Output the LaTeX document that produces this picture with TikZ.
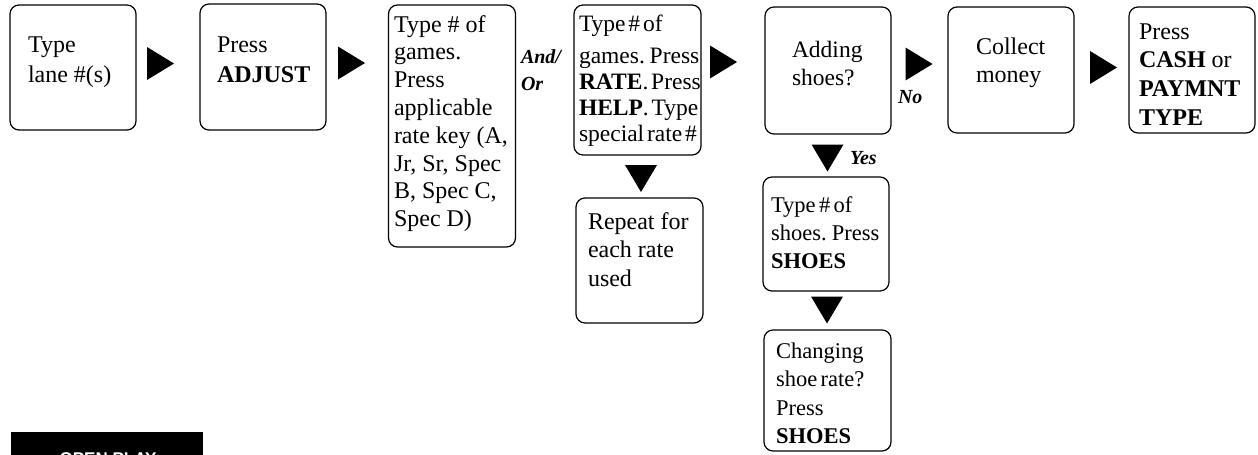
\documentclass[tikz,border=0pt]{standalone}
\usepackage{fontspec}
\setmainfont{Liberation Serif}
\newfontfamily\labelsans{Liberation Sans}
\tikzset{
  stepbox/.style={draw=black, line width=1.2pt, rounded corners=9pt, inner sep=0pt, outer sep=0pt},
  txt/.style={anchor=base west, inner sep=0pt, outer sep=0pt},
  tag/.style={anchor=base west, inner sep=0pt, outer sep=0pt, font=\fontsize{20}{28}\selectfont\bfseries\itshape},
  rarrow/.pic={\fill[black] (-13.5,-16.5) -- (13.5,0) -- (-13.5,16.5) -- cycle;},
  darrow/.pic={\fill[black] (-16,-13.5) -- (16,-13.5) -- (0,13.5) -- cycle;}
}
\newcommand{\boxtext}[3]{\parbox[t]{#1pt}{\fontsize{#2}{#3}\selectfont\raggedright}}
\begin{document}
\begin{tikzpicture}[x=1pt,y=-1pt]
\useasboundingbox (0,0) rectangle (1258,455);

% boxes
\node[stepbox, minimum width=126pt, minimum height=125pt] (b1) at (73,67.5) {};
\node[stepbox, minimum width=126pt, minimum height=126pt] (b2) at (263,67) {};
\node[stepbox, minimum width=127pt, minimum height=242pt] (b3) at (452,126) {};
\node[stepbox, minimum width=127pt, minimum height=150pt] (b4) at (637.5,80) {};
\node[stepbox, minimum width=127pt, minimum height=125pt] (b5) at (639.5,260.5) {};
\node[stepbox, minimum width=126pt, minimum height=127pt] (b6) at (828,70.5) {};
\node[stepbox, minimum width=126pt, minimum height=126pt] (b7) at (1011,70) {};
\node[stepbox, minimum width=126pt, minimum height=126pt] (b8) at (1192,70) {};
\node[stepbox, minimum width=126pt, minimum height=114pt] (b9) at (826,234) {};
\node[stepbox, minimum width=127pt, minimum height=121pt] (b10) at (827.5,390.5) {};

% texts
\node[txt] (t1) at (28,52) {\parbox[t]{110pt}{\fontsize{24}{30}\selectfont Type\\lane \#(s)}};
\node[txt] (t2) at (217,52) {\parbox[t]{110pt}{\fontsize{24}{30}\selectfont Press\\\textbf{ADJUST}}};
\node[txt] (t3) at (394,32) {\parbox[t]{125pt}{\fontsize{24}{27.8}\selectfont Type \# of\\games.\\Press\\applicable\\rate key (A,\\Jr, Sr, Spec\\B, Spec C,\\Spec D)}};
\node[txt] (t4) at (579,31) {\parbox[t]{125pt}{\fontsize{23.5}{26}\selectfont\spaceskip=0.12em plus 0.05em Type \# of\\[6pt]games. Press\\\textbf{RATE}. Press\\\textbf{HELP}. Type\\special rate \#}};
\node[txt] (t5) at (588,229) {\parbox[t]{115pt}{\fontsize{24}{28.5}\selectfont Repeat for\\each rate\\used}};
\node[txt] (t6) at (792,57) {\parbox[t]{100pt}{\fontsize{23.5}{28}\selectfont Adding\\shoes?}};
\node[txt] (t7) at (976,54) {\parbox[t]{100pt}{\fontsize{24}{28}\selectfont Collect\\money}};
\node[txt] (t8) at (1139,39) {\parbox[t]{118pt}{\fontsize{24}{28.7}\selectfont Press\\\textbf{CASH} or\\\textbf{PAYMNT}\\\textbf{TYPE}}};
\node[txt] (t9) at (771,212) {\parbox[t]{118pt}{\fontsize{22.5}{28}\selectfont\spaceskip=0.15em plus 0.05em Type \# of\\shoes. Press\\\textbf{SHOES}}};
\node[txt] (t10) at (776,358) {\parbox[t]{112pt}{\fontsize{22.5}{28.5}\selectfont\spaceskip=0.15em plus 0.05em Changing\\shoe rate?\\Press\\\textbf{SHOES}}};

% branch labels
\node[tag] (andor) at (521,63) {\parbox[t]{40pt}{\fontsize{20}{28}\selectfont\bfseries\itshape And/\\Or}};
\node[tag] (no) at (898,103) {No};
\node[tag] (yes) at (850,164) {Yes};

% arrows (filled triangles)
\pic at (160.5,63.5) {rarrow};
\pic at (351.5,63) {rarrow};
\pic at (723.5,62) {rarrow};
\pic at (919,64) {rarrow};
\pic at (1103.5,67.5) {rarrow};
\pic at (641,178.5) {darrow};
\pic at (827.5,158) {darrow};
\pic at (827,310) {darrow};

% open play tab
\fill[black] (11,432) rectangle (203,470);
\node[anchor=base, inner sep=0pt, text=white, font=\labelsans\bfseries\fontsize{17}{20}\selectfont] (open) at (108,464) {OPEN PLAY};
\end{tikzpicture}
\end{document}
